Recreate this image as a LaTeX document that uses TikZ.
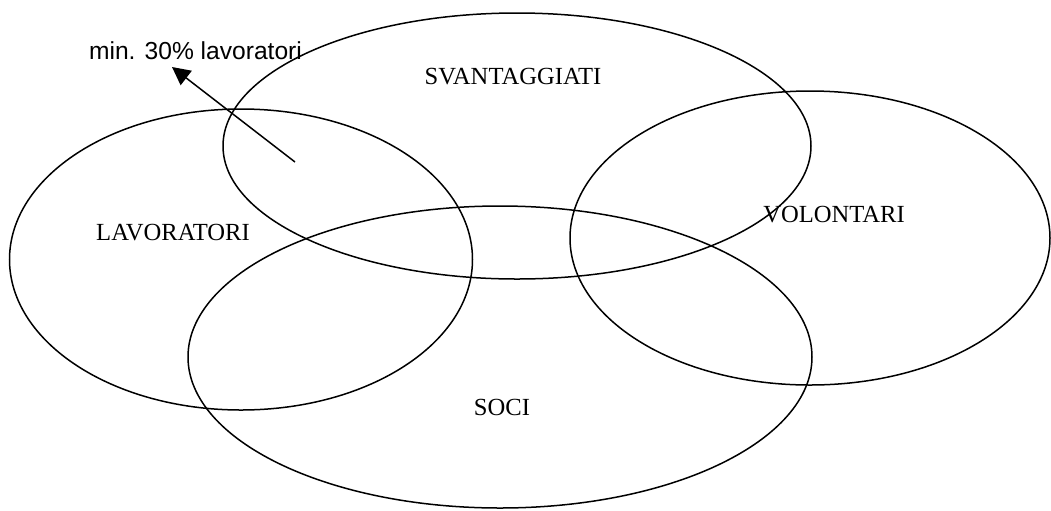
\documentclass[tikz,border=0pt]{standalone}
\usepackage{fontspec}
\setmainfont{Liberation Serif}
\newfontfamily\notefont{Liberation Sans}
\usetikzlibrary{arrows.meta}
\begin{document}
\begin{tikzpicture}[x=0.5pt,y=-0.5pt]
            \tikzstyle{set} = [line width=0.75pt]
            \tikzstyle{setname} = [font=\fontsize{12.3}{14}\selectfont, anchor=base, inner sep=0pt]
            \tikzstyle{note} = [font=\notefont\fontsize{12.3}{14}\selectfont, anchor=base, inner sep=0pt]
            \useasboundingbox (0,0) rectangle (1051,510);
            \draw[set] (241,259.5) ellipse (231.5 and 150.5);
            \draw[set] (517,146) ellipse (294 and 133);
            \draw[set] (810,238) ellipse (240 and 147);
            \draw[set] (500,357) ellipse (312 and 151);
            \node[setname] (lav) at (173,240) {LAVORATORI};
            \node[setname] (svan) at (513,84) {SVANTAGGIATI};
            \node[setname] (vol) at (834,222) {VOLONTARI};
            \node[setname] (soci) at (502,415) {SOCI};
            \node[note] (quota) at (195.5,59) {min. 30\% lavoratori};
            \coordinate (from) at (295,162);
            \coordinate (to) at (172,67);
            \draw[set, -{Triangle[length=9pt, width=9pt]}] (from) -- (to);
        \end{tikzpicture}
\end{document}
